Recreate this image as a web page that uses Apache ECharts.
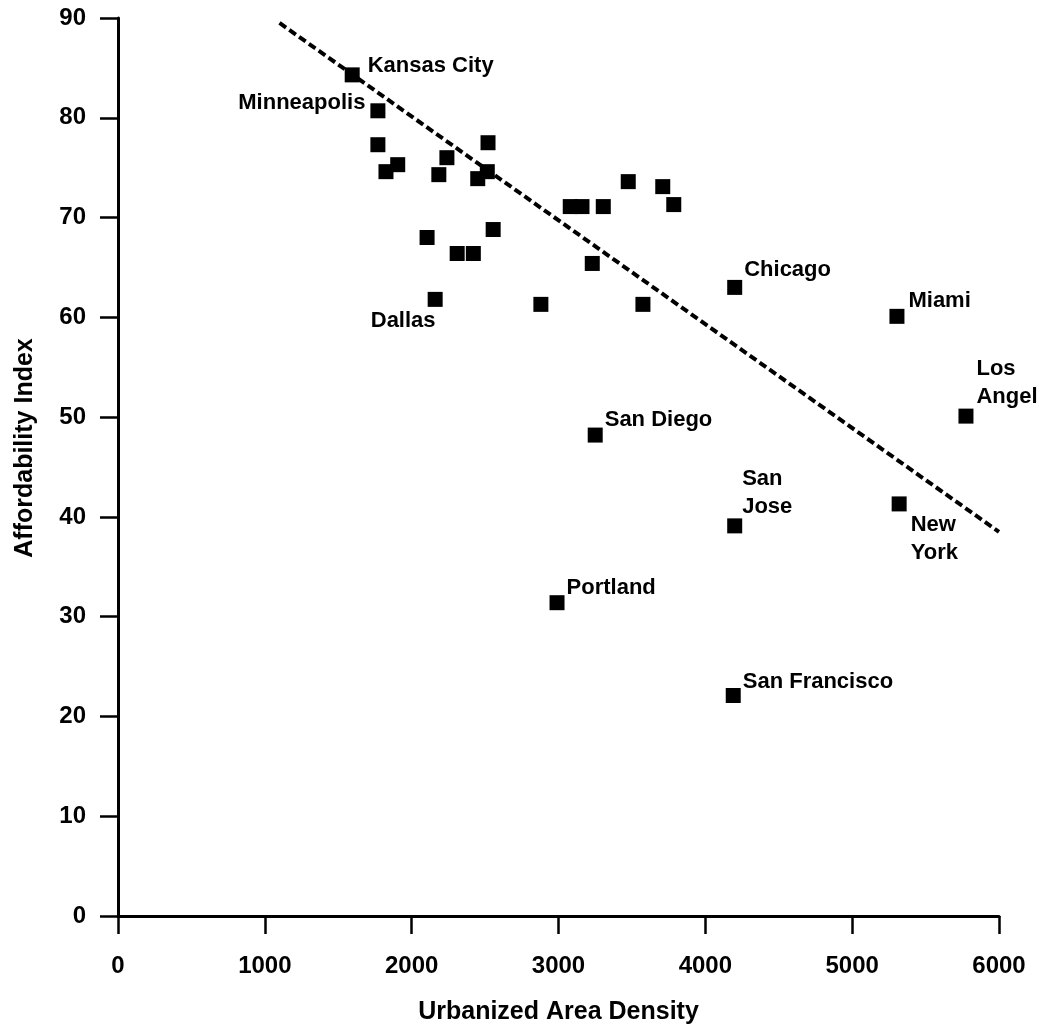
<!DOCTYPE html>
<html>
<head>
<meta charset="utf-8">
<title>Affordability vs Density</title>
<script src="https://cdn.jsdelivr.net/npm/echarts@6/dist/echarts.min.js"></script>
<style>
html, body { margin: 0; padding: 0; background: #fff; }
#chart { width: 1039px; height: 1027px; }
</style>
</head>
<body>
<div id="chart"></div>
<script>
// x ticks / y ticks
var xTicks = [0, 1000, 2000, 3000, 4000, 5000, 6000];
var yTicks = [0, 10, 20, 30, 40, 50, 60, 70, 80, 90];

// named cities
var cityNames = ['Kansas City', 'Minneapolis', 'Dallas', 'Chicago', 'Miami', 'Los\nAngel',
  'San Diego', 'San\nJose', 'New\nYork', 'Portland', 'San Francisco'];
var cityX = [1595, 1770, 2160, 4200, 5305, 5775, 3250, 4200, 5320, 2990, 4190];
var cityY = [84.3, 80.7, 61.8, 63.0, 60.1, 50.1, 48.2, 39.1, 41.3, 31.4, 22.1];

// other (unlabelled) cities
var otherX = [1770, 1825, 1905, 2240, 2185, 2520, 2515, 2450, 2105, 2310, 2420, 2555,
  2880, 3475, 3710, 3785, 3080, 3160, 3305, 3230, 3575];
var otherY = [77.3, 74.6, 75.3, 76.0, 74.3, 77.5, 74.6, 73.9, 68.0, 66.4, 66.4, 68.8,
  61.3, 73.6, 73.1, 71.3, 71.1, 71.1, 71.1, 65.4, 61.3];

// fitted trend line ends
var trendX = [1100, 6000];
var trendY = [89.5, 38.5];

// label placement per city (style only)
var labelPlace = {
  'Kansas City': { position: 'right', align: 'left', offset: [3, -9] },
  'Minneapolis': { position: 'left', align: 'right', offset: [0, -8] },
  'Dallas': { position: 'bottom', align: 'center', offset: [-32, -5] },
  'Chicago': { position: 'right', align: 'left', offset: [-3, -17] },
  'Miami': { position: 'right', align: 'left', offset: [-1, -15] },
  'Los\nAngel': { position: 'right', align: 'left', offset: [-2, -33] },
  'San Diego': { position: 'right', align: 'left', offset: [-3, -15] },
  'San\nJose': { position: 'right', align: 'left', offset: [-5, -33] },
  'New\nYork': { position: 'right', align: 'left', offset: [-1, 35] },
  'Portland': { position: 'right', align: 'left', offset: [-3, -15] },
  'San Francisco': { position: 'right', align: 'left', offset: [-3, -14] }
};

var FONT = '"Liberation Sans", Arial, sans-serif';

var cityData = cityNames.map(function (n, i) {
  var p = labelPlace[n];
  return {
    name: n,
    value: [cityX[i], cityY[i]],
    label: { show: true, position: p.position, align: p.align, offset: p.offset }
  };
});
var otherData = otherX.map(function (x, i) { return [x, otherY[i]]; });
var trendData = trendX.map(function (x, i) { return [x, trendY[i]]; });

var chart = echarts.init(document.getElementById('chart'));
var option = {
  backgroundColor: '#fff',
  animation: false,
  grid: { left: 118, right: 40, top: 18, bottom: 111, containLabel: false, outerBoundsMode: 'none' },
  xAxis: {
    type: 'value',
    min: xTicks[0],
    max: xTicks[xTicks.length - 1],
    interval: 1000,
    name: 'Urbanized Area Density',
    nameLocation: 'middle',
    nameGap: 84,
    nameTextStyle: { color: '#000', fontFamily: FONT, fontWeight: 'bold', fontSize: 25 },
    axisLine: { onZero: false, lineStyle: { color: '#000', width: 3 } },
    axisTick: { length: 18, lineStyle: { color: '#000', width: 2.5 } },
    axisLabel: {
      color: '#000', fontFamily: FONT, fontWeight: 'bold', fontSize: 24, margin: 38,
      formatter: function (v) { return String(v); }
    },
    splitLine: { show: false }
  },
  yAxis: {
    type: 'value',
    min: yTicks[0],
    max: yTicks[yTicks.length - 1],
    interval: 10,
    name: 'Affordability Index',
    nameLocation: 'middle',
    nameGap: 80,
    nameTextStyle: { color: '#000', fontFamily: FONT, fontWeight: 'bold', fontSize: 25, padding: [0, 0, 0, 38] },
    axisLine: { onZero: false, lineStyle: { color: '#000', width: 3 } },
    axisTick: { length: 18, lineStyle: { color: '#000', width: 2.5 } },
    axisLabel: { color: '#000', fontFamily: FONT, fontWeight: 'bold', fontSize: 24, margin: 32 },
    splitLine: { show: false }
  },
  series: [
    {
      name: 'trend',
      type: 'line',
      data: trendData,
      showSymbol: false,
      silent: true,
      lineStyle: { color: '#000', width: 4, type: [8, 4] },
      z: 1
    },
    {
      name: 'others',
      type: 'scatter',
      symbol: 'rect',
      symbolSize: 15,
      data: otherData,
      itemStyle: { color: '#000', opacity: 1 },
      z: 2
    },
    {
      name: 'cities',
      type: 'scatter',
      symbol: 'rect',
      symbolSize: 15,
      data: cityData,
      itemStyle: { color: '#000', opacity: 1 },
      label: {
        show: true,
        formatter: '{b}',
        color: '#000',
        fontFamily: FONT,
        fontWeight: 'bold',
        fontSize: 22,
        lineHeight: 28
      },
      z: 3
    }
  ]
};
chart.setOption(option);
</script>
</body>
</html>
